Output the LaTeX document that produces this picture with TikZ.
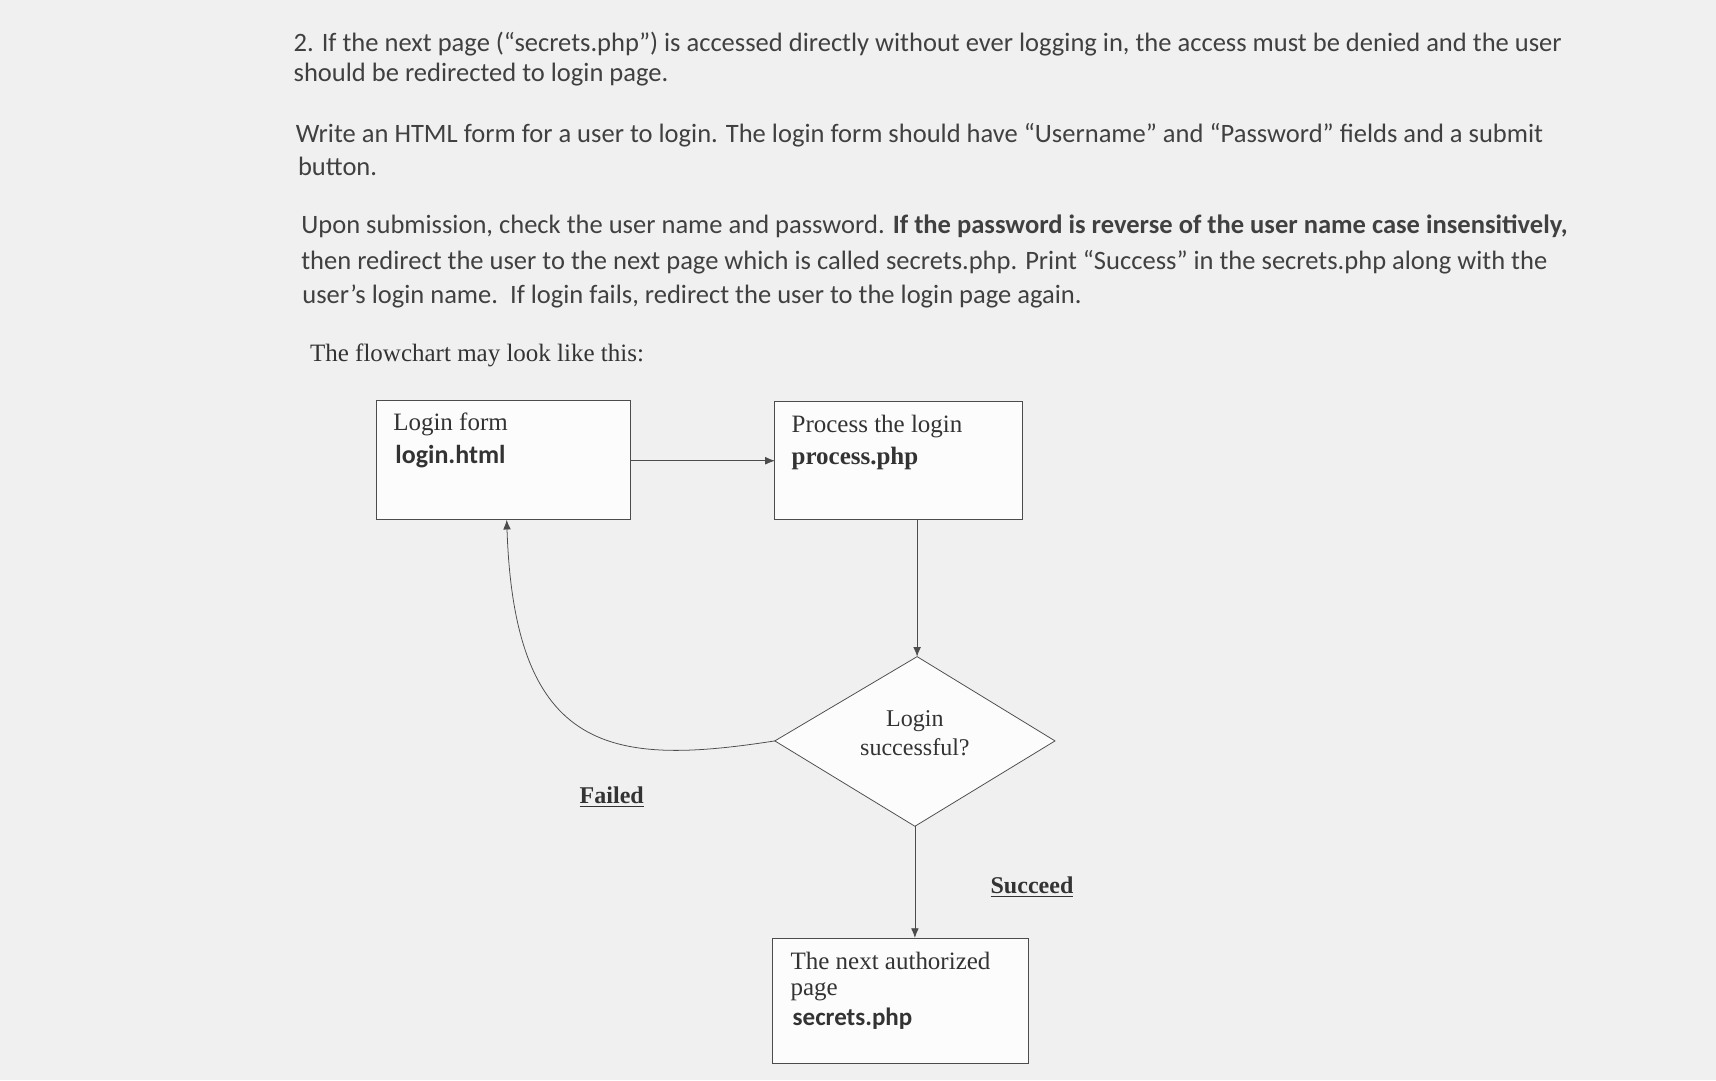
\documentclass[tikz,border=0pt]{standalone}
\usepackage{fontspec}
\setmainfont{Liberation Serif}
\newfontfamily\bodyfont{Carlito}
\usetikzlibrary{positioning, arrows.meta}
\begin{document}
\begin{tikzpicture}[x=0.02cm, y=-0.02cm,
    para/.style={anchor=west, inner sep=0pt, font=\bodyfont\fontsize{13.8}{16}\selectfont, text=black!75},
    box/.style={draw=black!70, thin, fill=white!60!gray!5},
    boxtext/.style={anchor=west, inner sep=0pt, font=\fontsize{13}{15}\selectfont, text=black!80},
    arrow/.style={-{Latex[length=5pt,width=4pt]}, draw=black!70, thin}
]
    \useasboundingbox[fill=gray!12] (0,0) rectangle (1568,987);

    % Assignment text
    \node[para] (l1) at (268,40) {2. If the next page (“secrets.php”) is accessed directly without ever logging in, the access must be denied and the user};
    \node[para] (l2) at (268,68) {should be redirected to login page.};
    \node[para] (l3) at (270,124) {Write an HTML form for a user to login. The login form should have “Username” and “Password” fields and a submit};
    \node[para] (l4) at (272,152) {button.};
    \node[para] (l5) at (275,207) {Upon submission, check the user name and password. \textbf{If the password is reverse of the user name case insensitively,}};
    \node[para] (l6) at (275,240) {then redirect the user to the next page which is called secrets.php. Print “Success” in the secrets.php along with the};
    \node[para] (l7) at (276,271) {user’s login name.\ \ If login fails, redirect the user to the login page again.};
    \node[boxtext] (intro) at (283,325) {The flowchart may look like this:};

    % Boxes
    \draw[box] (344,366) rectangle (576,475);
    \coordinate (loginE) at (576,421);
    \coordinate (loginS) at (463,475);
    \node[boxtext] (login1) at (359,388) {Login form};
    \node[boxtext, font=\bodyfont\bfseries\fontsize{13.5}{15}\selectfont] (login2) at (361,417) {login.html};

    \draw[box] (708,367) rectangle (934,475);
    \coordinate (procW) at (708,421);
    \coordinate (procS) at (838,475);
    \node[boxtext] (proc1) at (723,390) {Process the login};
    \node[boxtext, font=\bfseries\fontsize{13}{15}\selectfont] (proc2) at (723,419) {process.php};

    \draw[box] (708,677) -- (838,600) -- (964,677) -- (836,755) -- cycle;
    \coordinate (decN) at (838,600);
    \coordinate (decW) at (708,677);
    \coordinate (decS) at (836,755);
    \node[align=center, inner sep=0pt, font=\fontsize{12.5}{15}\selectfont, text=black!80] (dec) at (836,670) {Login\\successful?};

    \draw[box] (706,857) rectangle (940,972);
    \coordinate (nextN) at (836,857);
    \node[boxtext] (next1) at (722,878) {The next authorized};
    \node[boxtext] (next2) at (722,906) {page};
    \node[boxtext, font=\bodyfont\bfseries\fontsize{13}{15}\selectfont] (next3) at (724,931) {secrets.php};

    % Connectors
    \draw[arrow] (loginE) -- (procW);
    \draw[arrow] (procS) -- (decN);
    \draw[arrow] (decS) -- (nextN);
    \draw[arrow] (decW) .. controls (560,700) and (470,690) .. (loginS);

    % Labels
    \node[font=\bfseries\fontsize{12.5}{15}\selectfont, text=black!80] (failed) at (559,728) {\underline{Failed}};
    \node[font=\bfseries\fontsize{12.5}{15}\selectfont, text=black!80] (succeed) at (943,811) {\underline{Succeed}};
\end{tikzpicture}
\end{document}
